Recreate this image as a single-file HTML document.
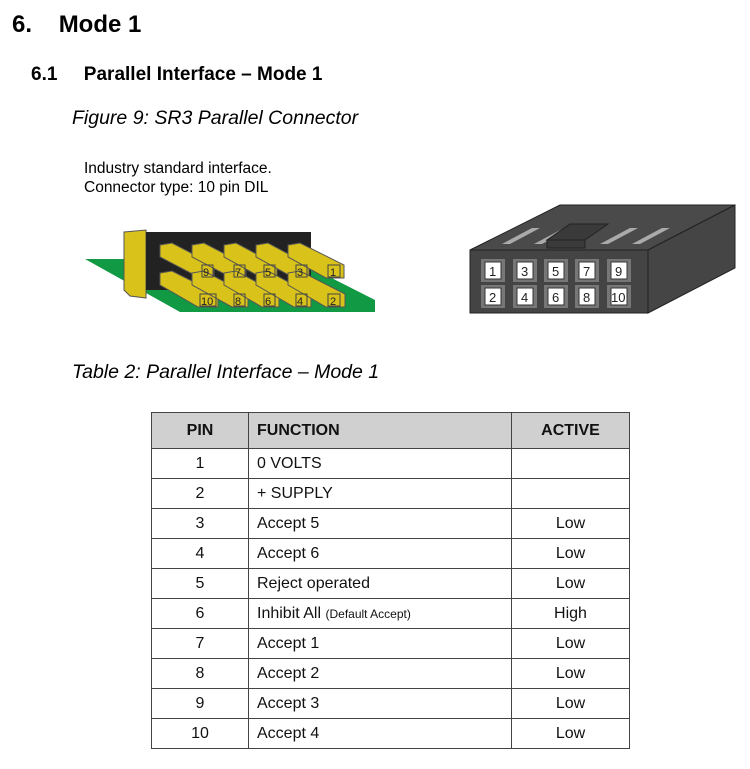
<!DOCTYPE html>
<html><head><style>
body{margin:0;width:750px;height:769px;background:#fff;font-family:"Liberation Sans",Arial,sans-serif;position:relative;overflow:hidden}
.a{position:absolute;white-space:nowrap}
table{position:absolute;left:151px;top:412px;border-collapse:collapse;font-size:16px;color:#111}
td{border:1.5px solid #444;height:29px;padding:0 8px}
td.c{text-align:center}
th{background:#d0d0d0;border:1.5px solid #444;height:35px;font-size:16px;text-align:left;padding:0 8px}
</style></head><body>
<div class="a" style="left:12px;top:11px;font-size:24px;font-weight:bold">6.&nbsp;&nbsp;&nbsp;&nbsp;Mode 1</div>
<div class="a" style="left:31px;top:64px;font-size:19px;font-weight:bold">6.1&nbsp;&nbsp;&nbsp;&nbsp;&nbsp;Parallel Interface – Mode 1</div>
<div class="a" style="left:72px;top:107px;font-size:19.5px;font-style:italic">Figure 9: SR3 Parallel Connector</div>
<div class="a" style="left:84px;top:159px;font-size:15.5px;line-height:19px">Industry standard interface.<br>Connector type: 10 pin DIL</div>
<svg class="a" style="left:0;top:0" width="750" height="340" font-family="Liberation Sans,Arial,sans-serif" font-size="11">
<polygon points="85,259 130,259 140,262 300,262 375,300 375,312 180,312" fill="#119944"/>
<polygon points="124,232 146,230 146,298 130,296 124,290" fill="#d9c21a" stroke="#555" stroke-width="1"/>
<rect x="146" y="232" width="165" height="58" fill="#222"/>
<g fill="#d9c21a" stroke="#555" stroke-width="1">
<polygon points="160,245 172,243 214,265 214,278 200,278 160,257"/>
<polygon points="192,245 204,243 246,265 246,278 232,278 192,257"/>
<polygon points="224,245 236,243 277,265 277,278 262,278 224,257"/>
<polygon points="256,245 268,243 309,265 309,278 294,278 256,257"/>
<polygon points="288,245 300,243 344,265 344,278 326,278 288,257"/>
<polygon points="160,273 172,271 218,294 218,307 198,307 160,285"/>
<polygon points="192,273 204,271 248,294 248,307 232,307 192,285"/>
<polygon points="224,273 236,271 279,294 279,307 262,307 224,285"/>
<polygon points="256,273 268,271 311,294 311,307 294,307 256,285"/>
<polygon points="288,273 300,271 345,294 345,307 326,307 288,285"/>
</g>
<g fill="none" stroke="#444"><rect x="202" y="265" width="11" height="12"/><rect x="234" y="265" width="11" height="12"/><rect x="264" y="265" width="11" height="12"/><rect x="296" y="265" width="11" height="12"/><rect x="328" y="265" width="12" height="12"/>
<rect x="200" y="294" width="16" height="12"/><rect x="234" y="294" width="11" height="12"/><rect x="264" y="294" width="11" height="12"/><rect x="296" y="294" width="11" height="12"/><rect x="328" y="294" width="12" height="12"/></g>
<g fill="#222"><text x="203" y="276">9</text><text x="235" y="276">7</text><text x="265" y="276">5</text><text x="297" y="276">3</text><text x="330" y="276">1</text>
<text x="201" y="305">10</text><text x="235" y="305">8</text><text x="265" y="305">6</text><text x="297" y="305">4</text><text x="330" y="305">2</text></g>
<polygon points="470,250 560,205 735,205 648,250" fill="#4a4a4a" stroke="#222"/>
<polygon points="648,250 735,205 735,268 648,313" fill="#454545" stroke="#222"/>
<rect x="470" y="250" width="178" height="63" fill="#444" stroke="#222"/>
<g fill="#aaa"><polygon points="502,244 510,244 540,228 532,228"/><polygon points="534,244 542,244 572,228 564,228"/><polygon points="600,244 608,244 638,228 630,228"/><polygon points="632,244 640,244 670,228 662,228"/></g>
<polygon points="547,240 585,240 608,224 570,224" fill="#3a3a3a" stroke="#222"/><rect x="547" y="240" width="38" height="8" fill="#3a3a3a" stroke="#222"/>
<g fill="#777"><rect x="481" y="259" width="24" height="23"/><rect x="513" y="259" width="24" height="23"/><rect x="544" y="259" width="24" height="23"/><rect x="575" y="259" width="24" height="23"/><rect x="607" y="259" width="24" height="23"/>
<rect x="481" y="285" width="24" height="23"/><rect x="513" y="285" width="24" height="23"/><rect x="544" y="285" width="24" height="23"/><rect x="575" y="285" width="24" height="23"/><rect x="607" y="285" width="24" height="23"/></g>
<g fill="#fff" stroke="#333"><rect x="485" y="262" width="16" height="17"/><rect x="517" y="262" width="16" height="17"/><rect x="548" y="262" width="16" height="17"/><rect x="579" y="262" width="16" height="17"/><rect x="611" y="262" width="16" height="17"/>
<rect x="485" y="288" width="16" height="17"/><rect x="517" y="288" width="16" height="17"/><rect x="548" y="288" width="16" height="17"/><rect x="579" y="288" width="16" height="17"/><rect x="611" y="288" width="16" height="17"/></g>
<g fill="#222" font-size="13"><text x="489" y="276">1</text><text x="521" y="276">3</text><text x="552" y="276">5</text><text x="583" y="276">7</text><text x="615" y="276">9</text>
<text x="489" y="302">2</text><text x="521" y="302">4</text><text x="552" y="302">6</text><text x="583" y="302">8</text><text x="611" y="302">10</text></g>
</svg>
<div class="a" style="left:72px;top:361px;font-size:19.5px;font-style:italic">Table 2: Parallel Interface – Mode 1</div>
<table>
<tr><th style="width:80px;text-align:center">PIN</th><th style="width:246px">FUNCTION</th><th style="width:101px;text-align:center">ACTIVE</th></tr>
<tr><td class="c">1</td><td>0 VOLTS</td><td></td></tr>
<tr><td class="c">2</td><td>+ SUPPLY</td><td></td></tr>
<tr><td class="c">3</td><td>Accept 5</td><td class="c">Low</td></tr>
<tr><td class="c">4</td><td>Accept 6</td><td class="c">Low</td></tr>
<tr><td class="c">5</td><td>Reject operated</td><td class="c">Low</td></tr>
<tr><td class="c">6</td><td>Inhibit All <span style="font-size:12px">(Default Accept)</span></td><td class="c">High</td></tr>
<tr><td class="c">7</td><td>Accept 1</td><td class="c">Low</td></tr>
<tr><td class="c">8</td><td>Accept 2</td><td class="c">Low</td></tr>
<tr><td class="c">9</td><td>Accept 3</td><td class="c">Low</td></tr>
<tr><td class="c">10</td><td>Accept 4</td><td class="c">Low</td></tr>
</table>
</body></html>
